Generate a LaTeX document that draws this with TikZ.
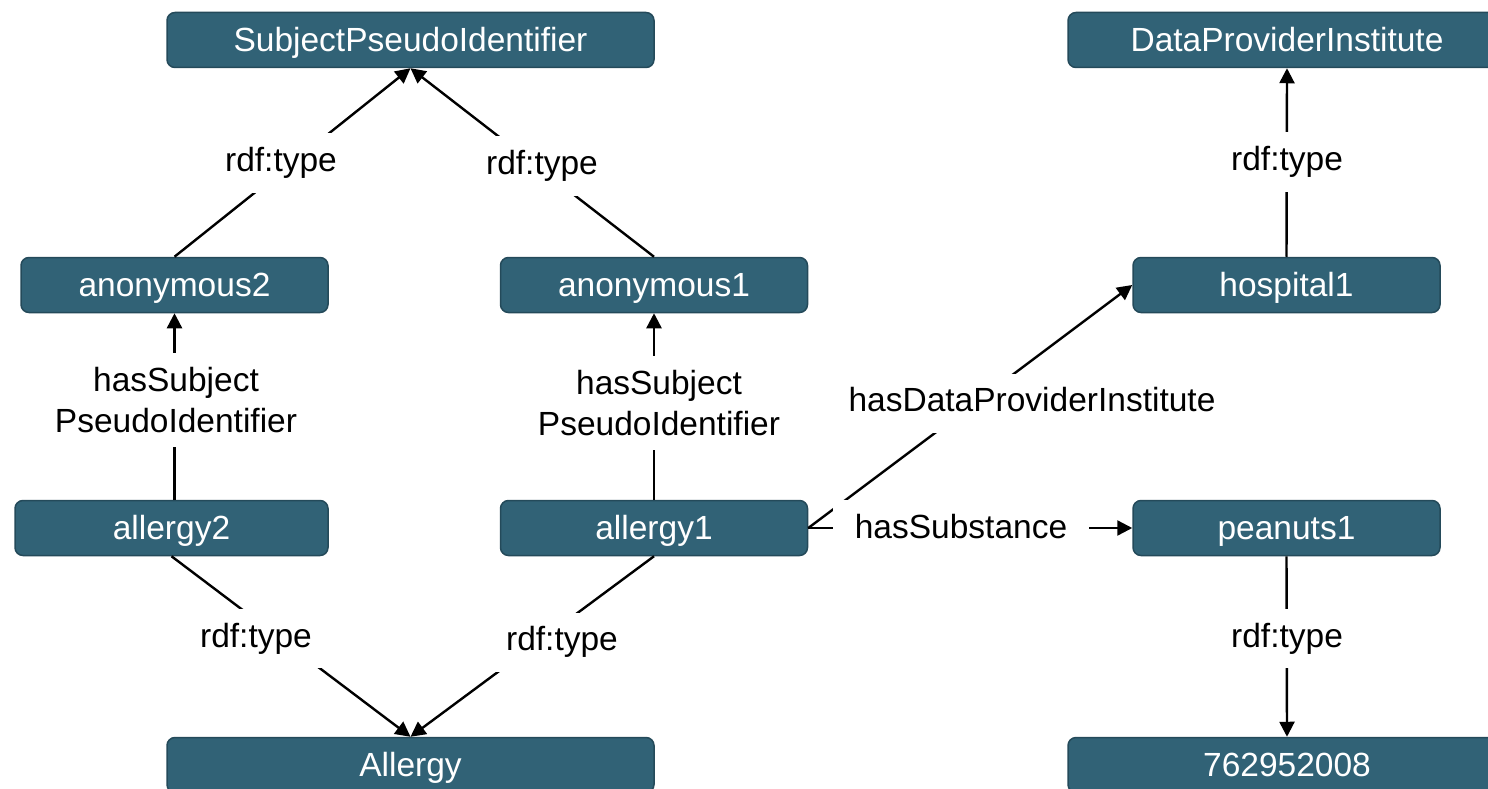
\documentclass[tikz,border=0pt]{standalone}
\usepackage{fontspec}
\setmainfont{Liberation Sans}
\usetikzlibrary{arrows.meta}
\definecolor{nodefill}{HTML}{316276}
\definecolor{nodeedge}{HTML}{244A5A}
\begin{document}
\begin{tikzpicture}[x=1pt,y=-1pt,
  every node/.style={font=\fontsize{33.5}{41}\selectfont},
  entity/.style={draw=nodeedge, line width=1.5pt, fill=nodefill, rounded corners=8pt,
    text=white, minimum height=55pt, inner sep=0pt, text height=24pt, text depth=1pt},
  wideentity/.style={entity, minimum width=487pt},
  midentity/.style={entity, minimum width=438pt},
  smallentity/.style={entity, minimum width=307pt},
  link/.style={line width=2.4pt, -{Triangle[length=15pt,width=15pt]}},
  lbl/.style={fill=white, inner xsep=22pt, inner ysep=14pt, text height=24pt, text depth=7pt},
  lbltwo/.style={fill=white, inner xsep=22pt, inner ysep=14pt, align=center}
]
\useasboundingbox (0,0) rectangle (1488,789);
\clip (0,0) rectangle (1488,789);

% classes and instances
\node[wideentity]  (spi)   at (410.5,40)  {SubjectPseudoIdentifier};
\node[midentity]   (dpi)   at (1287,40)   {DataProviderInstitute};
\node[smallentity] (anon2) at (174.5,285) {anonymous2};
\node[smallentity] (anon1) at (654,285)   {anonymous1};
\node[smallentity] (hosp)  at (1286.5,285){hospital1};
\node[entity, minimum width=313pt] (all2) at (171.5,528) {allergy2};
\node[smallentity] (all1)  at (654,528)   {allergy1};
\node[smallentity] (pean)  at (1286.5,528){peanuts1};
\node[wideentity]  (allergy) at (410.5,765) {Allergy};
\node[midentity]   (code)  at (1287,765)  {762952008};

% relations
\draw[link] (anon2.north) -- (spi.south);
\draw[link] (anon1.north) -- (spi.south);
\draw[link] (anon2.south |- all2.north) -- (anon2.south);
\draw[link] (all1.north) -- (anon1.south);
\draw[link] (all2.south) -- (allergy.north);
\draw[link] (all1.south) -- (allergy.north);
\draw[link] (all1.east) -- (hosp.west);
\draw[link] (all1.east) -- (pean.west);
\draw[link] (hosp.north) -- (dpi.south);
\draw[link] (pean.south) -- (code.north);

% relation labels
\node[lbl] (t1) at (281,163) {rdf:type};
\node[lbl] (t2) at (542,166) {rdf:type};
\node[lbl] (t3) at (1287,162) {rdf:type};
\node[lbltwo] (h2) at (176,400) {hasSubject\\PseudoIdentifier};
\node[lbltwo] (h1) at (659,403) {hasSubject\\PseudoIdentifier};
\node[lbl] (dp) at (1032,403) {hasDataProviderInstitute};
\node[lbl] (sb) at (961,529.5) {hasSubstance};
\node[lbl] (t4) at (256,638.5) {rdf:type};
\node[lbl] (t5) at (562,642) {rdf:type};
\node[lbl] (t6) at (1287,638.5) {rdf:type};
\end{tikzpicture}
\end{document}
